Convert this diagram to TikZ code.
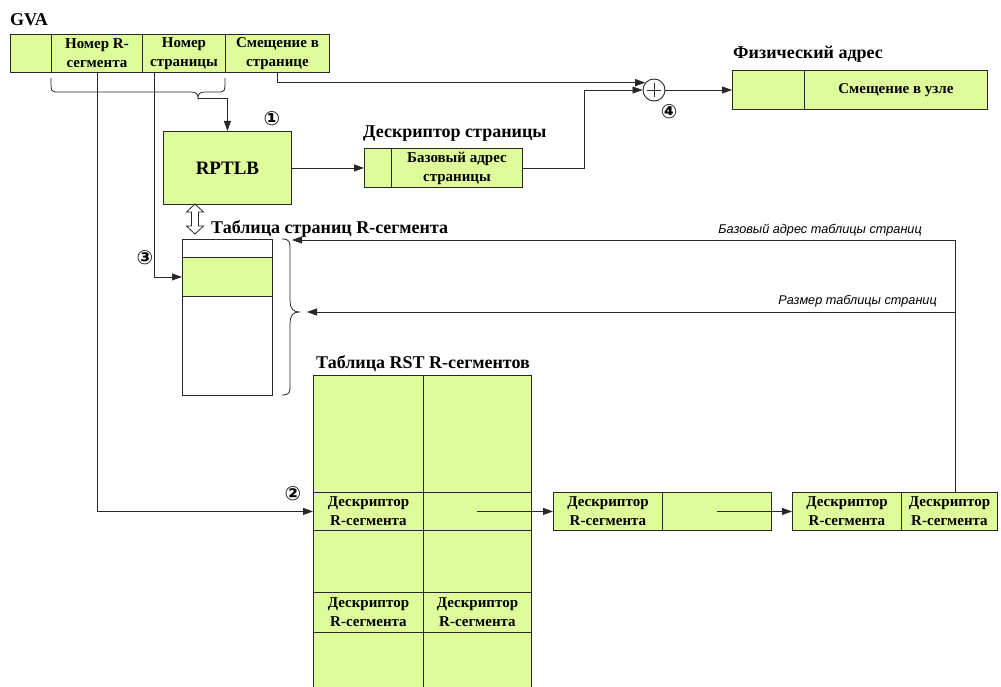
\documentclass[tikz,border=0pt]{standalone}
\usepackage{fontspec}
\setmainfont{Liberation Serif}
\newfontfamily\labelsans{Liberation Sans}
\newfontfamily\symfont{DejaVu Sans}
\usetikzlibrary{arrows.meta,calc}

\definecolor{cellgreen}{RGB}{223,252,155}
\definecolor{edge}{RGB}{40,40,40}

\tikzset{
  box/.style={draw=edge, line width=0.9pt, inner sep=0pt, anchor=north west},
  cell/.style={box, fill=cellgreen},
  blank/.style={box, fill=white},
  ctext/.style={font=\bfseries\fontsize{15}{19}\selectfont, align=center},
  title/.style={font=\bfseries\fontsize{18}{20}\selectfont, inner sep=0pt},
  note/.style={font=\labelsans\itshape\fontsize{12.7}{15}\selectfont, inner sep=0pt},
  num/.style={font=\symfont\bfseries\fontsize{19.5}{20}\selectfont, inner sep=0pt},
  wire/.style={line width=0.8pt, draw=edge},
  arr/.style={wire, -{Triangle[length=10pt,width=7pt]}},
}

\begin{document}
\begin{tikzpicture}[x=1pt,y=-1pt]
\useasboundingbox (0,0) rectangle (1001,687);
\clip (0,0) rectangle (1001,687);

% ---------- GVA register ----------
\node[title, anchor=west] (gvat) at (10,20) {GVA};
\node[cell, minimum width=41, minimum height=38] (g0) at (10,34) {};
\node[cell, ctext, minimum width=91, minimum height=38] (g1) at (51,34) {Номер R-\\сегмента};
\node[cell, ctext, minimum width=83, minimum height=38] (g2) at (142,34) {Номер\\страницы};
\node[cell, ctext, minimum width=104, minimum height=38] (g3) at (225,34) {Смещение в\\странице};

% brace under the R-segment and page numbers
\draw[wire] (51,78) .. controls (51,92) and (51,92) .. (58,92) -- (191,92)
  .. controls (196,92) and (198,94) .. (198,98)
  .. controls (198,94) and (200,92) .. (205,92) -- (218,92)
  .. controls (225,92) and (225,92) .. (225,78);
\coordinate (gtip) at (198,98);

% ---------- RPTLB ----------
\node[cell, font=\bfseries\fontsize{19}{20}\selectfont, minimum width=128, minimum height=73] (rptlb) at (163,131) {RPTLB};
\node[num] (n1) at (272,119) {①};
\draw[arr] (gtip) -| (rptlb.north);

% ---------- page descriptor ----------
\node[title, anchor=west] (desct) at (363,134) {Дескриптор страницы};
\node[cell, minimum width=27, minimum height=39] (d0) at (364,148) {};
\node[cell, ctext, minimum width=131, minimum height=39] (d1) at (391,148) {Базовый адрес\\страницы};
\draw[arr] (rptlb.east) -- (rptlb.east -| d0.west);

% ---------- adder and physical address ----------
\node[circle, draw=edge, line width=0.9pt, fill=white, minimum size=22, inner sep=0pt] (adder) at (654,90) {};
\draw[line width=0.9pt, edge] ($(adder.center)+(-7,0)$) -- ($(adder.center)+(7,0)$)
  ($(adder.center)+(0,-7)$) -- ($(adder.center)+(0,7)$);
\node[num] (n4) at (669,112) {④};

\node[title, anchor=west] (physt) at (733,54) {Физический адрес};
\node[cell, minimum width=72, minimum height=39] (p0) at (732,70) {};
\node[cell, ctext, minimum width=183, minimum height=39] (p1) at (804,70) {Смещение в узле};

\draw[arr] (g3.south) |- (adder.140);
\draw[arr] (d1.east) -- ++(61,0) |- (adder.west);
\draw[arr] (adder.east) -- (adder.east -| p0.west);

% ---------- page table of the R-segment ----------
\node[title, anchor=west] (ptt) at (211,229) {Таблица страниц R-сегмента};
\node[blank, minimum width=90, minimum height=18] (pt0) at (182,239) {};
\node[cell, minimum width=90, minimum height=39] (pt1) at (182,257) {};
\node[blank, minimum width=90, minimum height=99] (pt2) at (182,296) {};

% two-way link between RPTLB and the page table
\draw[edge, line width=0.8pt, fill=white]
  (195,204) -- (203.5,212) -- (198.5,212) -- (198.5,226) -- (203.5,226) -- (195,234)
  -- (186.5,226) -- (191.5,226) -- (191.5,212) -- (186.5,212) -- cycle;

% brace to the right of the page table
\draw[wire] (282,239) .. controls (290,239) and (290,242) .. (290,250) -- (290,301)
  .. controls (290,308) and (293,312) .. (299,312)
  .. controls (293,312) and (290,316) .. (290,323) -- (290,385)
  .. controls (290,392) and (290,395) .. (282,395);
\coordinate (brtop) at (292,240);
\coordinate (brtip) at (307,312);

\node[num] (n3) at (145,258) {③};
\draw[arr] ($(g2.south west)+(12,0)$) |- (pt1.west);

% ---------- RST table ----------
\node[title] (rstt) at (423,364) {Таблица RST R-сегментов};
\node[cell, minimum width=110, minimum height=117] (r0a) at (313,375) {};
\node[cell, minimum width=108, minimum height=117] (r0b) at (423,375) {};
\node[cell, ctext, minimum width=110, minimum height=38] (r1a) at (313,492) {Дескриптор\\R-сегмента};
\node[cell, minimum width=108, minimum height=38] (r1b) at (423,492) {};
\node[cell, minimum width=110, minimum height=62] (r2a) at (313,530) {};
\node[cell, minimum width=108, minimum height=62] (r2b) at (423,530) {};
\node[cell, ctext, minimum width=110, minimum height=40] (r3a) at (313,592) {Дескриптор\\R-сегмента};
\node[cell, ctext, minimum width=108, minimum height=40] (r3b) at (423,592) {Дескриптор\\R-сегмента};
\node[cell, minimum width=110, minimum height=70] (r4a) at (313,632) {};
\node[cell, minimum width=108, minimum height=70] (r4b) at (423,632) {};

\node[num] (n2) at (293,494) {②};
\draw[arr] (g1.south) |- (r1a.west);

% ---------- chain of R-segment descriptors ----------
\node[cell, ctext, minimum width=109, minimum height=38] (c1a) at (553,492) {Дескриптор\\R-сегмента};
\node[cell, minimum width=109, minimum height=38] (c1b) at (662,492) {};
\node[cell, ctext, minimum width=109, minimum height=38] (c2a) at (792,492) {Дескриптор\\R-сегмента};
\node[cell, ctext, minimum width=96, minimum height=38] (c2b) at (901,492) {Дескриптор\\R-сегмента};

\draw[arr] (r1b.center) -- (c1a.west);
\draw[arr] (c1b.center) -- (c2a.west);

% base address and size of the page table
\coordinate (ptr) at ($(c2b.north west)+(54,0)$);
\draw[arr] (ptr) |- (brtop);
\draw[arr] (ptr |- brtip) -- (brtip);
\node[note, anchor=east] (nbase) at (922,230) {Базовый адрес таблицы страниц};
\node[note, anchor=east] (nsize) at (937,301) {Размер таблицы страниц};
\end{tikzpicture}
\end{document}
